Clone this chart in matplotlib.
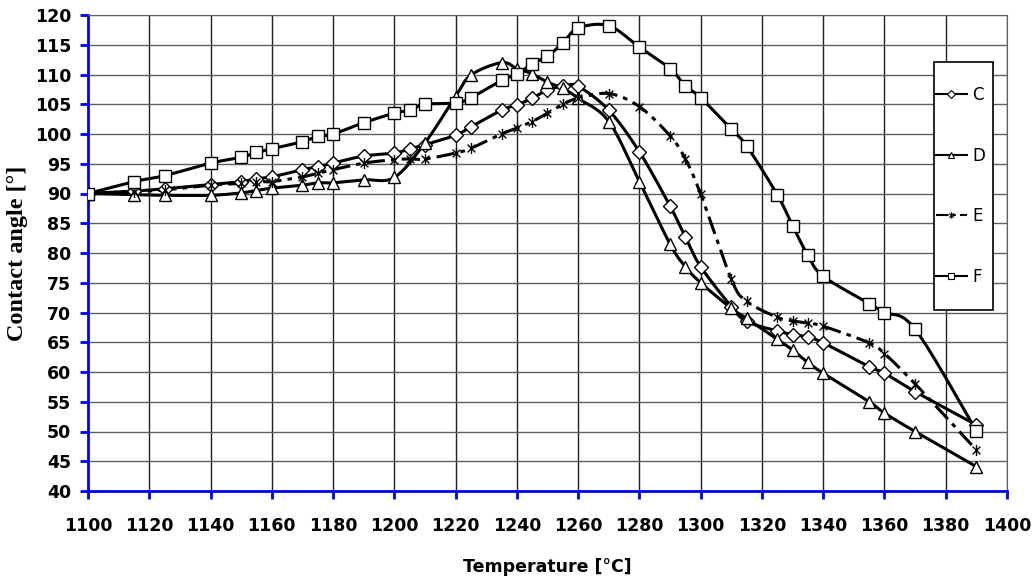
import numpy as np
import matplotlib
matplotlib.use("Agg")
from matplotlib import pyplot as plt
from matplotlib.path import Path
from matplotlib.patches import Rectangle

# --- data ---
c_temp = [1100, 1115, 1125, 1140, 1150, 1155, 1160, 1170, 1175, 1180, 1190, 1200, 1205, 1210,
          1220, 1225, 1235, 1240, 1245, 1250, 1255, 1260, 1270, 1280, 1290, 1295, 1300, 1310,
          1315, 1325, 1330, 1335, 1340, 1355, 1360, 1370, 1390]
c_angle = [90, 90.4, 90.8, 91.5, 92.0, 92.5, 92.8, 94.0, 94.5, 95.1, 96.3, 96.8, 97.5, 98.2,
           99.8, 101.2, 104.0, 104.9, 106.0, 107.4, 108.0, 108.0, 104.0, 97.0, 87.9, 82.7, 77.7, 71.0,
           68.5, 66.9, 66.3, 65.9, 64.9, 60.9, 59.8, 56.7, 51.1]

d_temp = [1100, 1115, 1125, 1140, 1150, 1155, 1160, 1170, 1175, 1180, 1190, 1200, 1210,
          1220, 1225, 1235, 1240, 1245, 1250, 1255, 1260, 1270, 1280, 1290, 1295, 1300, 1310,
          1315, 1325, 1330, 1335, 1340, 1355, 1360, 1370, 1390]
d_angle = [90, 89.8, 89.7, 89.7, 90.1, 90.5, 90.9, 91.4, 91.8, 91.8, 92.3, 92.7, 98.5,
           106.3, 109.9, 112.0, 111.0, 110.1, 108.7, 107.7, 106.0, 102.1, 92.0, 81.5, 77.7, 75.0, 70.7,
           69.0, 65.5, 63.7, 61.6, 59.8, 55.0, 53.1, 50.0, 44.1]

e_temp = [1100, 1115, 1125, 1140, 1150, 1155, 1160, 1170, 1175, 1180, 1190, 1200, 1205, 1210,
          1220, 1225, 1235, 1240, 1245, 1250, 1255, 1260, 1270, 1280, 1290, 1295, 1300, 1310,
          1315, 1325, 1330, 1335, 1340, 1355, 1360, 1370, 1390]
e_angle = [90, 90.3, 90.6, 91.4, 91.7, 92.0, 92.0, 92.8, 93.4, 94.0, 95.1, 95.7, 95.8, 95.8,
           96.8, 97.6, 100.0, 101.0, 102.1, 103.5, 105.0, 106.0, 106.8, 104.6, 99.7, 95.8, 89.9, 75.6,
           71.9, 69.2, 68.6, 68.2, 67.7, 64.9, 63.1, 58.0, 46.9]

f_temp = [1100, 1115, 1125, 1140, 1150, 1155, 1160, 1170, 1175, 1180, 1190, 1200, 1205, 1210,
          1220, 1225, 1235, 1240, 1245, 1250, 1255, 1260, 1270, 1280, 1290, 1295, 1300, 1310,
          1315, 1325, 1330, 1335, 1340, 1355, 1360, 1370, 1390]
f_angle = [90, 92.0, 93.0, 95.1, 96.1, 96.9, 97.5, 98.7, 99.6, 100.0, 101.9, 103.5, 104.0, 105.0,
           105.2, 106.1, 109.0, 110.1, 111.8, 113.1, 115.3, 117.8, 118.2, 114.6, 111.0, 108.1, 106.1, 100.8,
           98.0, 89.8, 84.6, 79.6, 76.1, 71.5, 70.0, 67.2, 50.1]

series_names = ["C", "D", "E", "F"]
x_ticks = list(range(1100, 1401, 20))
y_ticks = list(range(40, 121, 5))


def smooth(x, y, n=20):
    # bezier smoothing like a spreadsheet "smoothed line"
    x = np.asarray(x, float); y = np.asarray(y, float)
    px = np.concatenate([[x[0]], x, [x[-1]]])
    py = np.concatenate([[y[0]], y, [y[-1]]])
    t = np.linspace(0, 1, n)
    xs, ys = [], []
    for i in range(1, len(px) - 2):
        p0 = np.array([px[i], py[i]]); p3 = np.array([px[i + 1], py[i + 1]])
        p1 = p0 + (np.array([px[i + 1], py[i + 1]]) - np.array([px[i - 1], py[i - 1]])) / 6
        p2 = p3 - (np.array([px[i + 2], py[i + 2]]) - np.array([px[i], py[i]])) / 6
        b = ((1 - t) ** 3)[:, None] * p0 + (3 * (1 - t) ** 2 * t)[:, None] * p1 \
            + (3 * (1 - t) * t ** 2)[:, None] * p2 + (t ** 3)[:, None] * p3
        xs.extend(b[:, 0]); ys.extend(b[:, 1])
    return xs, ys


# "zh"-like star marker: x plus vertical bar
star = Path([(-0.7, -0.7), (0.7, 0.7), (-0.7, 0.7), (0.7, -0.7), (0, -1), (0, 1)],
            [Path.MOVETO, Path.LINETO, Path.MOVETO, Path.LINETO, Path.MOVETO, Path.LINETO])

W, H = 1036, 580
fig = plt.figure(figsize=(W / 100, H / 100), dpi=100)
ax = fig.add_axes([88 / W, 1 - 491 / H, (1007 - 88) / W, (491 - 15) / H])

styles = [
    (c_temp, c_angle, "D", 7, "-", series_names[0]),
    (d_temp, d_angle, "^", 8, "-", series_names[1]),
    (e_temp, e_angle, star, 8, (0, (6, 2, 1.5, 2)), series_names[2]),
    (f_temp, f_angle, "s", 8, "-", series_names[3]),
]
for xs, ys, mk, ms, ls, name in styles:
    sx, sy = smooth(xs, ys)
    ax.plot(sx, sy, color="black", lw=2.2, ls=ls, zorder=3)
    ax.plot(xs, ys, ls="none", marker=mk, ms=ms, mfc="none" if mk is star else "white",
            mec="black", mew=1.0, zorder=4)
    ax.plot([], [], color="black", lw=1.5, ls=ls, marker=mk, ms=4.5,
            mfc="none" if mk is star else "white", mec="black", mew=0.8, label=name)

ax.set_xlim(1100, 1400)
ax.set_ylim(40, 120)
ax.set_xticks(x_ticks)
ax.set_yticks(y_ticks)
ax.xaxis.grid(True, color="#202020", lw=1.0)
ax.yaxis.grid(True, color="#606060", lw=1.0)
ax.set_axisbelow(True)

for s in ["top", "right"]:
    ax.spines[s].set_color("#606060")
for s in ["left", "bottom"]:
    ax.spines[s].set_color("#0000ff")
    ax.spines[s].set_linewidth(2)
ax.tick_params(axis="both", direction="out", length=6, width=2, color="#0000ff")
ax.tick_params(axis="y", pad=6)
ax.tick_params(axis="x", pad=13)
for lab in ax.get_xticklabels() + ax.get_yticklabels():
    lab.set_fontfamily("DejaVu Sans")
    lab.set_fontweight("bold")
    lab.set_fontsize(12.5)

ax.set_xlabel("Temperature [°C]", fontfamily="DejaVu Sans", fontweight="bold",
              fontsize=12.5, labelpad=16)
ax.set_ylabel("Contact angle [°]", fontfamily="Liberation Serif", fontweight="bold",
              fontsize=17.5, labelpad=5)

# legend box (frame drawn separately so its padding can differ per side)
bx0, bx1, by0, by1 = 934, 993, 62, 310
frame = Rectangle((bx0 / W, 1 - by1 / H), (bx1 - bx0) / W, (by1 - by0) / H,
                  transform=fig.transFigure, facecolor="white", edgecolor="black",
                  lw=1.2, zorder=5)
fig.add_artist(frame)
leg = fig.legend(loc="center", bbox_to_anchor=((bx0 + bx1) / 2 / W - 0.003, 1 - (by0 + by1) / 2 / H),
                 frameon=False, labelspacing=2.55, handlelength=1.9, handletextpad=0.3,
                 borderpad=0, prop={"family": "DejaVu Sans", "size": 12})
leg.set_zorder(6)

fig.savefig("out.png", dpi=100)
